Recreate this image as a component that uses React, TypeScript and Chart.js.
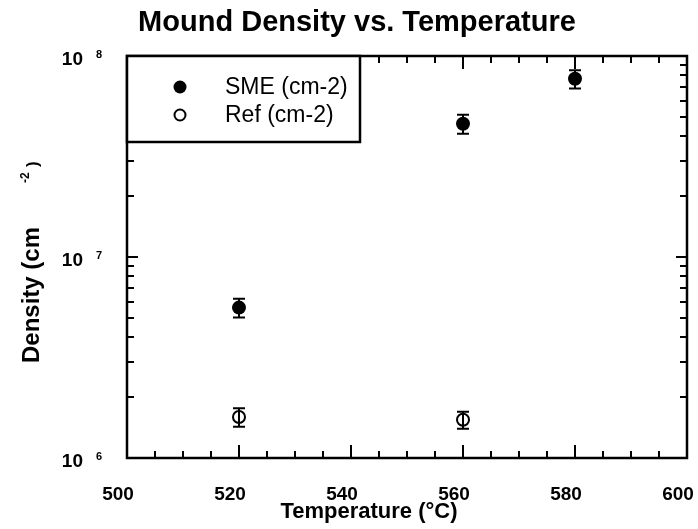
import React, { useEffect, useRef } from "react";
import { Chart, registerables } from "chart.js";

Chart.register(...registerables);

// ---- data ----
const smeTemperatures = [520, 560, 580];
const smeDensity = [5.6e6, 4.6e7, 7.7e7];
const smeError = [0.6e6, 0.5e7, 0.8e7];

const refTemperatures = [520, 560];
const refDensity = [1.6e6, 1.55e6];
const refError = [0.17e6, 0.15e6];

const xTickValues = [500, 520, 540, 560, 580, 600];
const xMinorStep = 5;
const yTickExponents = [6, 7, 8];

const titleText = "Mound Density vs. Temperature";
const xTitleText = "Temperature (°C)";
const yTitleMain = "Density (cm";
const yTitleSup = "-2";
const yTitleClose = ")";
const seriesLabels = ["SME (cm-2)", "Ref (cm-2)"];

const FONT = '"Liberation Sans", Arial, Helvetica, sans-serif';

const errorSeries = [
  { xs: smeTemperatures, ys: smeDensity, es: smeError },
  { xs: refTemperatures, ys: refDensity, es: refError },
];

const decor = {
  id: "decor",
  beforeDatasetsDraw(chart: any) {
    const { ctx, chartArea: a, scales } = chart;
    const xs = scales.x;
    const ys = scales.y;
    ctx.save();
    ctx.fillStyle = "#000";
    ctx.strokeStyle = "#000";

    // frame
    ctx.lineWidth = 2.5;
    ctx.strokeRect(a.left, a.top, a.right - a.left, a.bottom - a.top);

    // x ticks (bottom and top, inward)
    ctx.lineWidth = 2;
    for (let v = xs.min + xMinorStep; v < xs.max; v += xMinorStep) {
      const px = Math.round(xs.getPixelForValue(v)) + 0.0;
      const major = xTickValues.includes(v);
      const len = major ? 13 : 7;
      ctx.beginPath();
      ctx.moveTo(px, a.bottom);
      ctx.lineTo(px, a.bottom - len);
      ctx.moveTo(px, a.top);
      ctx.lineTo(px, a.top + len);
      ctx.stroke();
    }

    // y ticks (left and right, inward), log minor ticks
    for (let i = 0; i < yTickExponents.length - 1; i++) {
      const e = yTickExponents[i];
      for (let m = 1; m <= 9; m++) {
        if (m === 1 && i === 0) continue;
        const v = m * Math.pow(10, e);
        const py = Math.round(ys.getPixelForValue(v));
        const len = m === 1 ? 11 : 7;
        ctx.beginPath();
        ctx.moveTo(a.left, py);
        ctx.lineTo(a.left + len, py);
        ctx.moveTo(a.right, py);
        ctx.lineTo(a.right - len, py);
        ctx.stroke();
      }
    }

    // x tick labels
    ctx.font = `bold 19px ${FONT}`;
    ctx.textAlign = "center";
    ctx.textBaseline = "alphabetic";
    for (const v of xTickValues) {
      const px = xs.getPixelForValue(v) - 9;
      ctx.fillText(String(v), px, 500);
    }

    // y tick labels 10^n
    for (const e of yTickExponents) {
      const py = ys.getPixelForValue(Math.pow(10, e));
      ctx.font = `bold 19px ${FONT}`;
      ctx.textAlign = "right";
      ctx.fillText("10", 83, py + 9);
      ctx.font = `bold 11px ${FONT}`;
      ctx.textAlign = "left";
      ctx.fillText(String(e), 96, py + 2);
    }

    // title
    ctx.font = `bold 29px ${FONT}`;
    ctx.textAlign = "center";
    ctx.fillText(titleText, 357, 31);

    // x axis title
    ctx.font = `bold 22px ${FONT}`;
    ctx.fillText(xTitleText, 369, 518);

    // y axis title (rotated)
    ctx.save();
    ctx.translate(39, 363);
    ctx.rotate(-Math.PI / 2);
    ctx.textAlign = "left";
    ctx.font = `bold 24px ${FONT}`;
    ctx.fillText(yTitleMain, 0, 0);
    ctx.font = `bold 12px ${FONT}`;
    ctx.fillText(yTitleSup, 180, -10);
    ctx.font = `bold 17px ${FONT}`;
    ctx.fillText(yTitleClose, 196, -1);
    ctx.restore();

    // error bars
    ctx.lineWidth = 2;
    const cap = 6;
    for (const s of errorSeries) {
      for (let i = 0; i < s.xs.length; i++) {
        const px = xs.getPixelForValue(s.xs[i]);
        const yHi = ys.getPixelForValue(s.ys[i] + s.es[i]);
        const yLo = ys.getPixelForValue(s.ys[i] - s.es[i]);
        ctx.beginPath();
        ctx.moveTo(px, yHi);
        ctx.lineTo(px, yLo);
        ctx.moveTo(px - cap, yHi);
        ctx.lineTo(px + cap, yHi);
        ctx.moveTo(px - cap, yLo);
        ctx.lineTo(px + cap, yLo);
        ctx.stroke();
      }
    }
    ctx.restore();
  },
  afterDraw(chart: any) {
    const { ctx, chartArea: a } = chart;
    ctx.save();
    // legend box
    const bx = a.left, by = a.top, bw = 233, bh = 86;
    ctx.fillStyle = "#fff";
    ctx.fillRect(bx, by, bw, bh);
    ctx.strokeStyle = "#000";
    ctx.lineWidth = 2.5;
    ctx.strokeRect(bx, by, bw, bh);
    // markers
    ctx.fillStyle = "#000";
    ctx.beginPath();
    ctx.arc(180, 87, 6.5, 0, Math.PI * 2);
    ctx.fill();
    ctx.lineWidth = 2;
    ctx.beginPath();
    ctx.arc(180, 115, 5.5, 0, Math.PI * 2);
    ctx.stroke();
    // text
    ctx.font = `23px ${FONT}`;
    ctx.textAlign = "left";
    ctx.textBaseline = "middle";
    ctx.fillText(seriesLabels[0], 225, 88);
    ctx.fillText(seriesLabels[1], 225, 116);
    ctx.restore();
  },
};

export default function App() {
  const ref = useRef<HTMLCanvasElement | null>(null);
  useEffect(() => {
    if (!ref.current) return;
    const chart = new Chart(ref.current, {
      type: "scatter",
      data: {
        datasets: [
          {
            label: seriesLabels[0],
            data: smeTemperatures.map((x, i) => ({ x, y: smeDensity[i] })),
            pointRadius: 7,
            pointBackgroundColor: "#000",
            pointBorderColor: "#000",
            pointBorderWidth: 0,
            showLine: false,
          },
          {
            label: seriesLabels[1],
            data: refTemperatures.map((x, i) => ({ x, y: refDensity[i] })),
            pointRadius: 6,
            pointBackgroundColor: "rgba(0,0,0,0)",
            pointBorderColor: "#000",
            pointBorderWidth: 2,
            showLine: false,
          },
        ],
      },
      options: {
        animation: false,
        responsive: false,
        devicePixelRatio: 1,
        layout: { padding: { left: 127, top: 56, right: 11, bottom: 71 } },
        plugins: {
          legend: { display: false },
          title: { display: false },
          tooltip: { enabled: false },
        },
        scales: {
          x: { type: "linear", min: 500, max: 600, display: false },
          y: { type: "logarithmic", min: 1e6, max: 1e8, display: false },
        },
      },
      plugins: [decor],
    } as any);
    return () => chart.destroy();
  }, []);
  return (
    <div style={{ position: "fixed", left: 0, top: 0, width: 698, height: 529, background: "#fff" }}>
      <canvas ref={ref} width={698} height={529} style={{ display: "block" }} />
    </div>
  );
}
